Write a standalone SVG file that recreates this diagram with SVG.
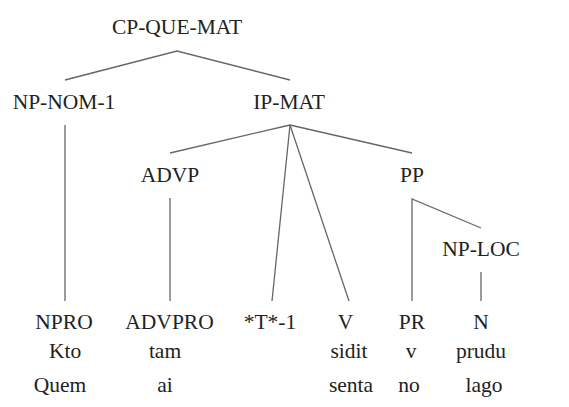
<svg xmlns="http://www.w3.org/2000/svg" width="569" height="407" viewBox="0 0 569 407">
  <style>
    .lbl { font-family: 'Liberation Serif', 'DejaVu Serif', serif; font-size: 21.5px; fill: #222; text-anchor: middle; }
    .edge { stroke: #666; stroke-width: 1.3; fill: none; }
  </style>
  <rect width="569" height="407" fill="#fff"/>

  <g id="edges">
    <polyline class="edge" points="65,80 177,51 290,80"/>
    <line class="edge" x1="65" y1="125" x2="65" y2="301"/>
    <line class="edge" x1="290" y1="125" x2="170" y2="153"/>
    <line class="edge" x1="290" y1="125" x2="412" y2="153"/>
    <line class="edge" x1="290" y1="125" x2="272" y2="301"/>
    <line class="edge" x1="290" y1="125" x2="349" y2="301"/>
    <line class="edge" x1="170" y1="198" x2="170" y2="301"/>
    <polyline class="edge" points="412,301 412,199 481,228"/>
    <line class="edge" x1="481" y1="272" x2="481" y2="301"/>
  </g>

  <g class="lbl" font-family="Liberation Serif, DejaVu Serif, serif">
    <g id="cp-que-mat"><text x="177" y="34">CP-QUE-MAT</text></g>
    <g id="np-nom-1"><text x="64" y="109">NP-NOM-1</text></g>
    <g id="ip-mat"><text x="289" y="109">IP-MAT</text></g>
    <g id="advp"><text x="170" y="182">ADVP</text></g>
    <g id="pp"><text x="412" y="182">PP</text></g>
    <g id="np-loc"><text x="481" y="256">NP-LOC</text></g>

    <g id="npro">
      <text x="64" y="329">NPRO</text>
      <text x="65" y="358">Kto</text>
      <text x="60" y="392">Quem</text>
    </g>
    <g id="advpro">
      <text x="169.5" y="329">ADVPRO</text>
      <text x="165" y="358">tam</text>
      <text x="165" y="392">ai</text>
    </g>
    <g id="trace">
      <text x="270" y="329">*T*-1</text>
    </g>
    <g id="v">
      <text x="345.5" y="329">V</text>
      <text x="349" y="358">sidit</text>
      <text x="351" y="392">senta</text>
    </g>
    <g id="pr">
      <text x="412" y="329">PR</text>
      <text x="411" y="358">v</text>
      <text x="409" y="392">no</text>
    </g>
    <g id="n">
      <text x="481" y="329">N</text>
      <text x="481" y="358">prudu</text>
      <text x="484" y="392">lago</text>
    </g>
  </g>
</svg>
